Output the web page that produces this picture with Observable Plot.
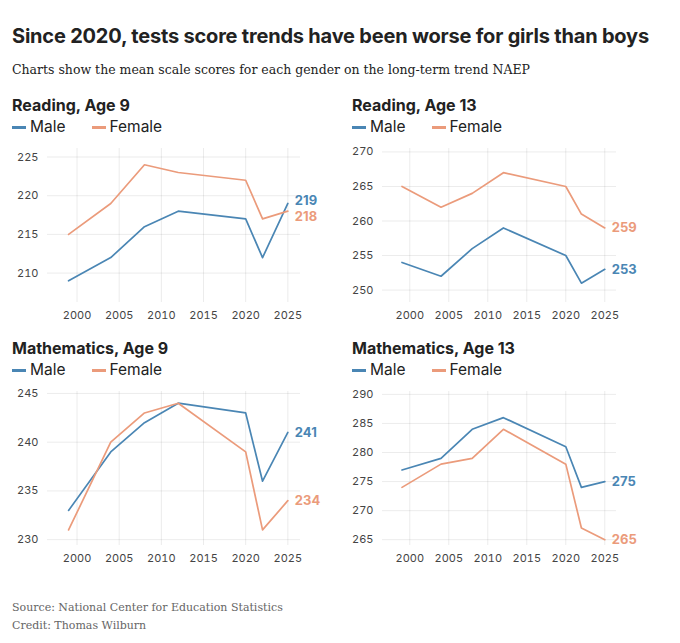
<!DOCTYPE html>
<html><head><meta charset="utf-8">
<script src="https://cdn.jsdelivr.net/npm/d3@7"></script>
<script src="https://cdn.jsdelivr.net/npm/@observablehq/plot@0.6"></script>
<style>
body{margin:0;padding:18px 12px;font-family:Inter,"Noto Sans",sans-serif;color:#222;background:#fff;width:656px}
h1{font-size:20px;margin:6px 0 14px;font-weight:700;letter-spacing:-0.2px}
.sub{font-family:"DejaVu Serif",serif;font-size:12.5px;margin-bottom:18px}
.grid{display:grid;grid-template-columns:340px 316px;row-gap:12px}
.t{font-weight:700;font-size:16px;margin-bottom:2px}
.lg{font-size:15.5px;display:flex;gap:26px;margin-bottom:4px}
.lg span::before{content:"";display:inline-block;width:14px;height:3px;margin-right:4px;vertical-align:middle}
.m::before{background:#4a86b4}.f::before{background:#eb9b7b}
.src{font-family:"DejaVu Serif",serif;font-size:11px;color:#666;margin-top:30px;line-height:1.6}
</style></head><body>
<h1>Since 2020, tests score trends have been worse for girls than boys</h1>
<div class="sub">Charts show the mean scale scores for each gender on the long-term trend NAEP</div>
<div class="grid" id="g"></div>
<div class="src">Source: National Center for Education Statistics<br>Credit: Thomas Wilburn</div>
<script>
const years=[1999,2004,2008,2012,2020,2022,2025];
const titles=["Reading, Age 9","Reading, Age 13","Mathematics, Age 9","Mathematics, Age 13"];
const male=[[209,212,216,218,217,212,219],[254,252,256,259,255,251,253],[233,239,242,244,243,236,241],[277,279,284,286,281,274,275]];
const female=[[215,219,224,223,222,217,218],[265,262,264,267,265,261,259],[231,240,243,244,239,231,234],[274,278,279,284,278,267,265]];
const yDomains=[[206.2,226.1],[248.2,270.5],[229.4,245.2],[264,290.5]];
const yTicks=[[210,215,220,225],[250,255,260,265,270],[230,235,240,245],[265,270,275,280,285,290]];
const C={Male:"#4a86b4",Female:"#eb9b7b"};
const g=document.getElementById("g");
titles.forEach((t,i)=>{
  const data=[];
  years.forEach((y,j)=>{data.push({year:y,v:male[i][j],s:"Male"});data.push({year:y,v:female[i][j],s:"Female"});});
  const close=Math.abs(male[i][6]-female[i][6])<2;
  const lastM=data.filter(d=>d.year===2025&&d.s==="Male");
  const lastF=data.filter(d=>d.year===2025&&d.s==="Female");
  const div=document.createElement("div");
  div.innerHTML=`<div class="t">${t}</div><div class="lg"><span class="m">Male</span><span class="f">Female</span></div>`;
  div.append(Plot.plot({
    width:(i%2?316:340)-10,height:186,marginLeft:(i%2?30:35),marginRight:42,marginTop:8,marginBottom:24,
    style:{fontFamily:"Inter, sans-serif",fontSize:"11px",color:"#444"},
    x:{domain:[1996.5,2026.5],ticks:[2000,2005,2010,2015,2020,2025],tickFormat:d=>String(d),tickSize:0,label:null,grid:true},
    y:{domain:yDomains[i],ticks:yTicks[i],tickSize:0,label:null,grid:true},
    marks:[
      Plot.lineY(data,{x:"year",y:"v",stroke:d=>C[d.s],z:"s",strokeWidth:1.7}),
      Plot.text(lastM,{x:"year",y:"v",text:d=>String(d.v),fill:C.Male,dx:7,dy:close?-3:0,textAnchor:"start",fontWeight:700,fontSize:13}),
      Plot.text(lastF,{x:"year",y:"v",text:d=>String(d.v),fill:C.Female,dx:7,dy:close?6:0,textAnchor:"start",fontWeight:700,fontSize:13})
    ]
  }));
  g.append(div);
});
</script>
</body></html>
